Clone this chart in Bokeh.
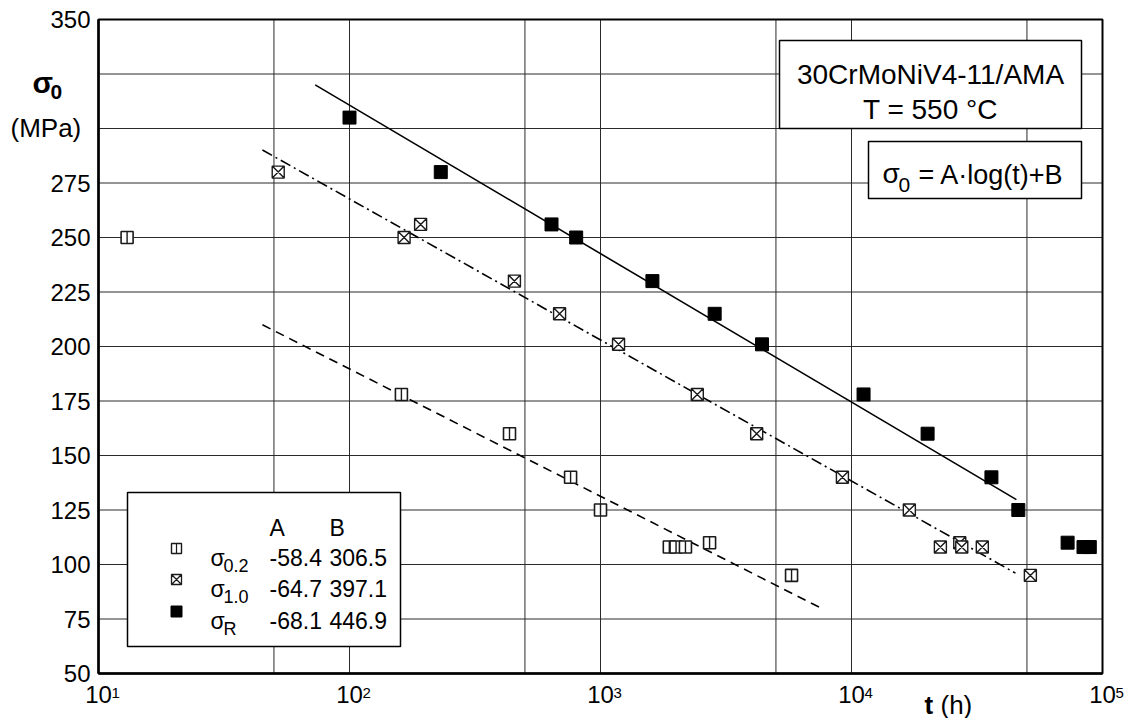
import numpy as np
from bokeh.plotting import figure
from bokeh.models import (FixedTicker, Label, BoxAnnotation, Range1d,
                          LogAxis, LinearAxis)
from bokeh.embed import file_html
from bokeh.resources import INLINE

# ---------------- data ----------------
t_02 = [13, 161, 434, 760, 1000, 1880, 2000, 2180, 2720, 5770]
s_02 = [250, 178, 160, 140, 125, 108, 108, 108, 110, 95]

t_10 = [52, 165, 192, 454, 687, 1180, 2430, 4190, 9200, 17000, 22600, 27000, 27500, 33200, 51600]
s_10 = [280, 250, 256, 230, 215, 201, 178, 160, 140, 125, 108, 110, 108, 108, 95]

t_R = [100, 231, 638, 800, 1610, 2850, 4400, 11170, 20100, 36100, 46200, 72600, 84000, 89000]
s_R = [305, 280, 256, 250, 230, 215, 201, 178, 160, 140, 125, 110, 108, 108]

fit_names = ["0.2", "1.0", "R"]
fit_A = [-58.4, -64.7, -68.1]
fit_B = [306.5, 397.1, 446.9]
fit_t_start = [45, 45, 73]
fit_t_end = [7700, 45000, 45400]

x_min, x_max = 10, 100000
y_min, y_max = 50, 350
x_ticks = [10, 100, 1000, 10000, 100000]
x_tick_base = "10"
x_tick_exp = ["1", "2", "3", "4", "5"]
y_ticks = [50, 75, 100, 125, 150, 175, 200, 225, 250, 275, 350]
y_grid = [75, 100, 125, 150, 175, 200, 225, 250, 275, 300, 325]
x_grid = [50, 100, 500, 1000, 5000, 10000, 50000]

FONT = "Liberation Sans"

# pixel -> data helpers (data frame: x 98..1102, y 19..673 on a 1132x718 canvas)
def xd(px):
    return 10 ** (1 + (px - 98) / 251.0)

def yd(py):
    return 350 - (py - 19) * 300.0 / 654.0

p = figure(width=1132, height=718, x_axis_type="log",
           x_range=Range1d(xd(0), xd(1132)), y_range=Range1d(yd(718), yd(0)),
           x_axis_location=None, y_axis_location=None,
           output_backend="svg", toolbar_location=None, min_border=0)
p.title.visible = False
p.background_fill_color = "white"
p.border_fill_color = "white"
p.outline_line_color = None
p.xgrid.visible = False
p.ygrid.visible = False

# grid lines
GC = "#2a2a2a"
p.segment(x0=x_grid, y0=[y_min] * len(x_grid), x1=x_grid, y1=[y_max] * len(x_grid),
          line_color=GC, line_width=1)
p.segment(x0=[x_min] * len(y_grid), y0=y_grid, x1=[x_max] * len(y_grid), y1=y_grid,
          line_color=GC, line_width=1)

# axes at fixed locations
xa = LogAxis(fixed_location=y_min, bounds=(x_min, x_max),
             ticker=FixedTicker(ticks=x_ticks, minor_ticks=[]))
xa.major_label_overrides = {t: x_tick_base for t in x_ticks}
ya = LinearAxis(fixed_location=x_min, bounds=(y_min, y_max),
                ticker=FixedTicker(ticks=y_ticks, minor_ticks=[]))
for ax in (xa, ya):
    ax.major_tick_in = 0
    ax.major_tick_out = 0
    ax.minor_tick_in = 0
    ax.minor_tick_out = 0
    ax.axis_line_width = 2.5
    ax.axis_line_color = "black"
    ax.major_label_text_font = FONT
    ax.major_label_text_font_size = "24px"
    ax.major_label_text_color = "black"
xa.major_label_standoff = 12
ya.major_label_standoff = 8
p.add_layout(xa, "below")
p.add_layout(ya, "left")

# fit lines
dashes = ["9 6", "11 4 2 4", "solid"]
for A, B, t0, t1, d in zip(fit_A, fit_B, fit_t_start, fit_t_end, dashes):
    tt = np.array([t0, t1], dtype=float)
    p.line(tt, A * np.log10(tt) + B, line_color="black", line_width=1.6, line_dash=d)

# markers
MS = 12
p.scatter(t_02, s_02, marker="square", size=MS, fill_color="white",
          line_color="#1a1a1a", line_width=1.6)
p.scatter(t_02, s_02, marker="dash", angle=np.pi / 2, size=MS,
          line_color="#1a1a1a", line_width=1.4)
p.scatter(t_10, s_10, marker="square_x", size=MS, fill_color="white",
          line_color="#1a1a1a", line_width=1.4)
p.scatter(t_R, s_R, marker="square", size=MS + 1, fill_color="black",
          line_color="black", line_width=1)

# plot frame border
p.add_layout(BoxAnnotation(left=x_min, right=x_max, bottom=y_min, top=y_max,
                           fill_alpha=0, line_color="black", line_width=2, line_alpha=1))

# boxes
def box(l, r, t, b):
    p.add_layout(BoxAnnotation(left=xd(l), right=xd(r), top=yd(t), bottom=yd(b),
                               fill_color="white", fill_alpha=1,
                               line_color="black", line_width=1.5, line_alpha=1))

box(779, 1081, 40, 128)
box(868, 1081, 141, 198)
box(127, 400, 492, 646)

def lab(px, py, text, size, align="left", bold=False, x=None):
    p.add_layout(Label(x=xd(px) if x is None else x, y=yd(py), text=text,
                       text_font=FONT, text_font_size=f"{size}px", text_align=align,
                       text_baseline="alphabetic", text_color="black",
                       text_font_style="bold" if bold else "normal",
                       x_offset=0 if x is None else px))

# exponents of the x tick labels
for t, e in zip(x_ticks, x_tick_exp):
    lab(13, 692, e, 15, x=t)

# info box
lab(930, 74, "30CrMoNiV4-11/AMA", 28, "center")
lab(930, 109, "T = 550 \u00b0C", 28, "center")
# formula box
lab(882, 173, "\u03c3", 28)
lab(898, 184, "0", 21)
lab(918, 174, "= A\u00b7log(t)+B", 27)

# legend table
lab(269, 527, "A", 23)
lab(329, 527, "B", 23)
row_base = [557, 588, 620]
for i, base in enumerate(row_base):
    lab(210, base, "\u03c3", 23)
    lab(223, base + 8, fit_names[i], 18)
    lab(269, base, f"{fit_A[i]:.1f}", 23)
    lab(329, base, f"{fit_B[i]:.1f}", 23)

lx = [xd(176)] * 3
ly = [yd(b - 9) for b in row_base]
p.scatter(lx[:1], ly[:1], marker="square", size=10, fill_color="white", line_color="#1a1a1a", line_width=1.4, level="overlay")
p.scatter(lx[:1], ly[:1], marker="dash", angle=np.pi / 2, size=10, line_color="#1a1a1a", line_width=1.2, level="overlay")
p.scatter(lx[1:2], ly[1:2], marker="square_x", size=10, fill_color="white", line_color="#1a1a1a", line_width=1.3, level="overlay")
p.scatter(lx[2:], ly[2:], marker="square", size=11, fill_color="black", line_color="black", level="overlay")

# axis titles
lab(32, 82, "\u03c3", 30, bold=True)
lab(50, 91, "0", 21, bold=True)
lab(10, 127, "(MPa)", 26)
lab(924, 704, "t", 26, bold=True)
lab(940, 704, "(h)", 26)

open("out.html", "w").write(file_html(p, INLINE))
